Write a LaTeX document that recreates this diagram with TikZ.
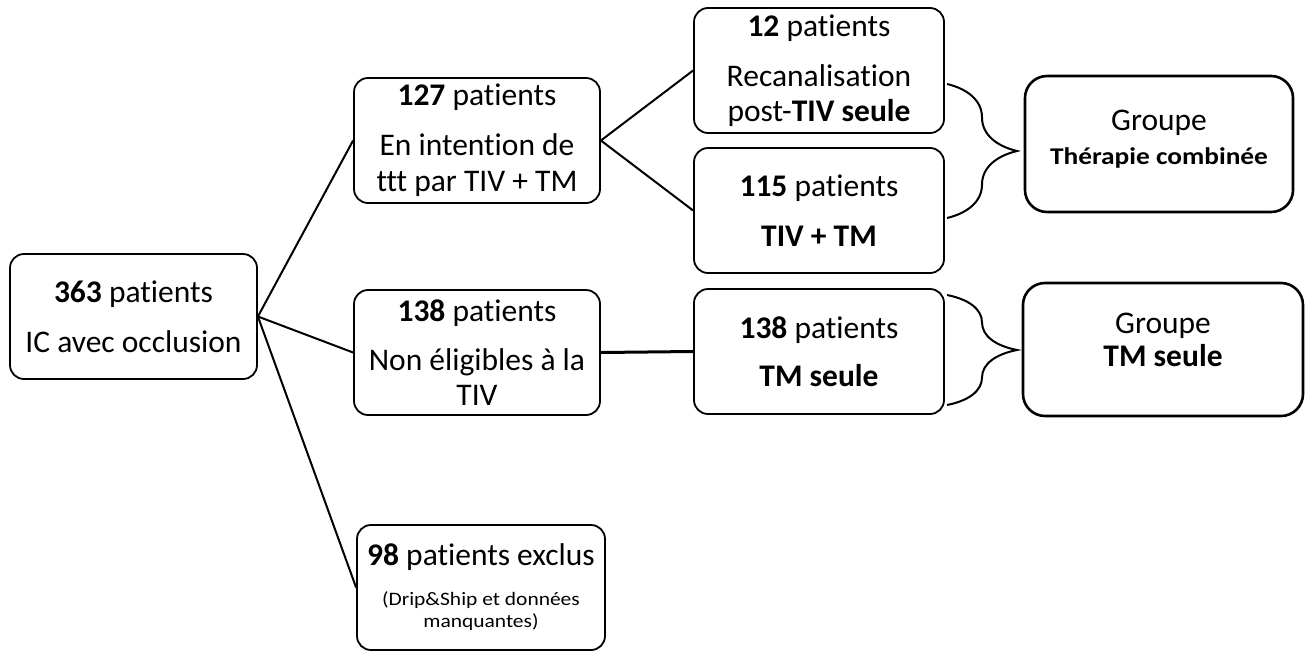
\documentclass[tikz,border=0pt]{standalone}
\usepackage{fontspec}
\setmainfont{Carlito}[Ligatures=NoCommon]
\newfontfamily\widefont{Carlito}[FakeStretch=1.14, Ligatures=NoCommon]
\newfontfamily\notefont{Carlito}[FakeStretch=1.13, Ligatures=NoCommon]
\usetikzlibrary{decorations.pathreplacing}
\tikzset{
  box/.style={draw, line width=1.8pt, rounded corners=14pt, rectangle, align=center,
    inner sep=0pt, font=\fontsize{31.5}{36}\selectfont},
  groupbox/.style={box, line width=2.6pt, rounded corners=22pt},
  link/.style={line width=2pt},
  thicklink/.style={line width=3pt},
  bracket/.style={line width=2pt, decorate, decoration={brace, amplitude=70pt}}
}
\begin{document}
\begin{tikzpicture}[x=1pt, y=-1pt]
\useasboundingbox (0,0) rectangle (1311,651);
\node[box, minimum width=247pt, minimum height=125pt] (A) at (133.5,316.5)
  {\textbf{363} patients\\[14pt]IC avec occlusion};
\node[box, minimum width=246pt, minimum height=125pt] (B) at (477,140.5)
  {\textbf{127} patients\\[14pt]En intention de\\[0pt]ttt par TIV + TM};
\node[box, minimum width=246pt, minimum height=125pt] (C) at (477,352.5)
  {\textbf{138} patients\\[13pt]Non éligibles à la\\[-1pt]TIV};
\node[box, minimum width=248pt, minimum height=125pt] (D) at (481,587.5)
  {\textbf{98} patients exclus\\[4pt]{\notefont\fontsize{19}{22}\selectfont (Drip\&Ship et données}\\[-14pt]{\notefont\fontsize{19}{22}\selectfont manquantes)}};
\node[box, minimum width=250pt, minimum height=125pt] (E) at (819,70.5)
  {\textbf{12} patients\\[14pt]Recanalisation\\[-1pt]post-\textbf{TIV seule}};
\node[box, minimum width=250pt, minimum height=125pt] (F) at (819,210.5)
  {\textbf{115} patients\\[14pt]\textbf{TIV + TM}};
\node[box, minimum width=250pt, minimum height=125pt] (G) at (819,351.5)
  {\textbf{138} patients\\[12pt]\textbf{TM seule}};
\node[groupbox, minimum width=268pt, minimum height=136pt] (H) at (1159,144)
  {Groupe\\[-2pt]{\widefont\bfseries\fontsize{24}{30}\selectfont Thérapie combinée\rule[-14pt]{0pt}{1pt}}};
\node[groupbox, minimum width=280pt, minimum height=133pt] (I) at (1163,349.5)
  {Groupe\\[-3pt]\textbf{TM seule}\rule[-20pt]{0pt}{1pt}};
\draw[link] (A.east) -- (B.west);
\draw[link] (A.east) -- (C.west);
\draw[link] (A.east) -- (D.west);
\draw[link] (B.east) -- (E.west);
\draw[link] (B.east) -- (F.west);
\draw[thicklink] (C.east) -- (G.west);
\coordinate (b1s) at (947,84);
\coordinate (b1e) at (947,218);
\coordinate (b2s) at (947,295);
\coordinate (b2e) at (947,405);
\draw[bracket] (b1s) -- (b1e);
\draw[bracket] (b2s) -- (b2e);
\end{tikzpicture}
\end{document}
